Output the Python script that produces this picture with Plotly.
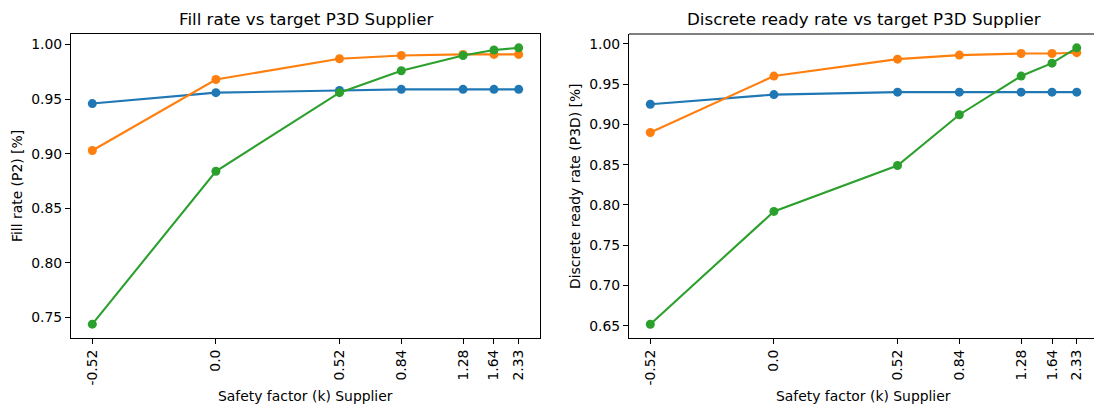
import plotly.graph_objects as go

# Target service levels (%) used for x positions; labels are safety factors k
service_levels = [30, 50, 70, 80, 90, 95, 99]
k_labels = ["-0.52", "0.0", "0.52", "0.84", "1.28", "1.64", "2.33"]

fill_blue = [0.946, 0.956, 0.958, 0.959, 0.959, 0.959, 0.959]
fill_orange = [0.903, 0.968, 0.987, 0.990, 0.991, 0.991, 0.991]
fill_green = [0.744, 0.884, 0.956, 0.976, 0.990, 0.995, 0.997]

ready_blue = [0.925, 0.937, 0.940, 0.940, 0.940, 0.940, 0.940]
ready_orange = [0.890, 0.960, 0.981, 0.986, 0.988, 0.988, 0.989]
ready_green = [0.652, 0.792, 0.849, 0.912, 0.960, 0.976, 0.995]

colors = ["#1f77b4", "#ff7f0e", "#2ca02c"]
W, H = 1094, 407
FONT = "DejaVu Sans"
TS = 13.9

fig = go.Figure()

for axis_suffix, series in [("", [fill_blue, fill_orange, fill_green]),
                            ("2", [ready_blue, ready_orange, ready_green])]:
    for c, ys in zip(colors, series):
        fig.add_trace(go.Scatter(
            x=service_levels, y=ys, mode="lines+markers",
            line=dict(color=c, width=2.1),
            marker=dict(color=c, size=9),
            xaxis="x" + axis_suffix, yaxis="y" + axis_suffix,
            showlegend=False, hoverinfo="skip"))

ydom = [1 - 338 / H, 1 - 34 / H]
common_x = dict(tickmode="array", tickvals=service_levels, ticktext=k_labels,
                tickangle=-90, ticks="outside", ticklen=5, tickwidth=1.1,
                tickcolor="black", showline=True, linecolor="black", linewidth=1.1,
                showgrid=False, zeroline=False,
                tickfont=dict(family=FONT, size=TS, color="black"))
common_y = dict(ticks="outside", ticklen=5, tickwidth=1.1, tickcolor="black",
                showline=True, linecolor="black", linewidth=1.1, showgrid=False,
                zeroline=False, tickformat=".2f",
                tickfont=dict(family=FONT, size=TS, color="black"))

fig.update_layout(
    width=W, height=H, autosize=False,
    margin=dict(l=0, r=0, t=0, b=0),
    paper_bgcolor="white", plot_bgcolor="white",
    xaxis=dict(domain=[71 / W, 540 / W], range=[26.55, 102.45], anchor="y",
               mirror=True, **common_x),
    yaxis=dict(domain=ydom, range=[0.7313, 1.0097], anchor="x", mirror=True,
               dtick=0.05, tick0=0, **common_y),
    xaxis2=dict(domain=[629 / W, 1.0], range=[26.55, 26.55 + 465 / 6.18],
                anchor="y2", **common_x),
    yaxis2=dict(domain=ydom, range=[0.6349, 1.0122], anchor="x2",
                dtick=0.05, tick0=0, **common_y),
    shapes=[dict(type="line", xref="paper", yref="paper",
                 x0=629 / W, x1=1.0, y0=ydom[1], y1=ydom[1],
                 line=dict(color="black", width=1.1))],
)

def ann(text, x, y, size, angle=0):
    fig.add_annotation(text=text, x=x / W, y=1 - y / H, xref="paper", yref="paper",
                       showarrow=False, textangle=angle, xanchor="center",
                       yanchor="middle",
                       font=dict(family=FONT, size=size, color="black"))

ann("Fill rate vs target P3D Supplier", 305.5, 19, 16.7)
ann("Discrete ready rate vs target P3D Supplier", 863.5, 19, 16.7)
ann("Safety factor (k) Supplier", 305.5, 396, TS)
ann("Safety factor (k) Supplier", 863.5, 396, TS)
ann("Fill rate (P2) [%]", 17, 186, TS, -90)
ann("Discrete ready rate (P3D) [%]", 575, 186, TS, -90)

fig.write_html("out.html")
